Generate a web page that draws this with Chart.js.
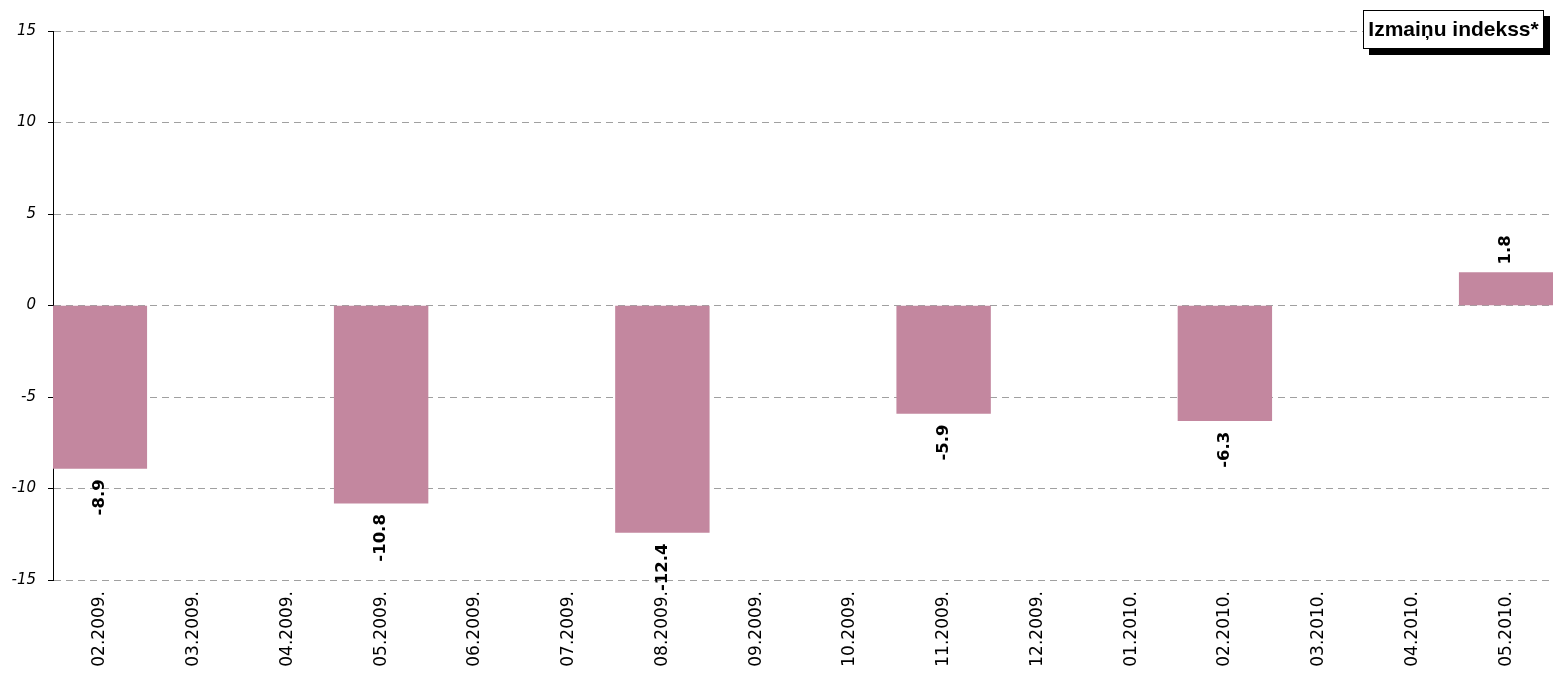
<!DOCTYPE html>
<html>
<head>
<meta charset="utf-8">
<script src="https://cdn.jsdelivr.net/npm/chart.js@4"></script>
<style>
  html, body { margin: 0; padding: 0; background: #fff; }
  #wrap { width: 1553px; height: 675px; position: relative; }
</style>
</head>
<body>
<div id="wrap"><canvas id="myChart" width="1553" height="675"></canvas></div>
<script>
var labels = ['02.2009.', '03.2009.', '04.2009.', '05.2009.', '06.2009.', '07.2009.', '08.2009.', '09.2009.',
              '10.2009.', '11.2009.', '12.2009.', '01.2010.', '02.2010.', '03.2010.', '04.2010.', '05.2010.'];
var valores = [-8.9, null, null, -10.8, null, null, -12.4, null, null, -5.9, null, null, -6.3, null, null, 1.8];
var yTicks = [-15, -10, -5, 0, 5, 10, 15];
var nomeSerie = 'Izmaiņu indekss*';

var fonte = '"DejaVu Sans", Arial, sans-serif';

// rotulos das barras
const rotulos = {
    id: 'rotulos',
    afterDatasetsDraw(chart) {
        const ctx = chart.ctx;
        const meta = chart.getDatasetMeta(0);
        ctx.save();
        ctx.font = 'bold 16.5px ' + fonte;
        ctx.fillStyle = '#000';
        ctx.textBaseline = 'middle';
        meta.data.forEach((bar, i) => {
            var v = valores[i];
            if (v === null) return;
            ctx.save();
            if (v < 0) {
                ctx.translate(bar.x, bar.y + 11);
                ctx.rotate(-Math.PI / 2);
                ctx.textAlign = 'right';
            } else {
                ctx.translate(bar.x, bar.y - 8);
                ctx.rotate(-Math.PI / 2);
                ctx.textAlign = 'left';
            }
            ctx.fillText(v.toFixed(1), 0, 0);
            ctx.restore();
        });
        ctx.restore();
    }
};

// caixa da legenda
const legendaCaixa = {
    id: 'legendaCaixa',
    afterDraw(chart) {
        const ctx = chart.ctx;
        ctx.save();
        ctx.font = 'bold 21px "Liberation Sans", Arial, sans-serif';
        var left = 1363, top = 10, w = 181, h = 39;
        ctx.fillStyle = '#000';
        ctx.fillRect(left + 6, top + 6, w, h);
        ctx.fillStyle = '#fff';
        ctx.fillRect(left, top, w, h);
        ctx.strokeStyle = '#000';
        ctx.lineWidth = 1;
        ctx.strokeRect(left + 0.5, top + 0.5, w - 1, h - 1);
        ctx.fillStyle = '#000';
        ctx.textAlign = 'center';
        ctx.textBaseline = 'middle';
        ctx.fillText(nomeSerie, left + w / 2, top + h / 2 + 1);
        ctx.restore();
    }
};

const data = {
    labels: labels,
    datasets: [{
        label: nomeSerie,
        backgroundColor: 'rgb(195,135,159)',
        data: valores,
        categoryPercentage: 1,
        barPercentage: 1
    }]
};

const config = {
    type: 'bar',
    data: data,
    options: {
        responsive: false,
        animation: false,
        layout: { padding: { top: 31, right: 0, left: 0, bottom: 0 } },
        plugins: {
            legend: { display: false },
            tooltip: { enabled: false }
        },
        scales: {
            x: {
                grid: { display: false, drawTicks: false },
                border: { display: false },
                ticks: {
                    minRotation: 90,
                    maxRotation: 90,
                    autoSkip: false,
                    padding: 11,
                    color: '#000',
                    font: { family: fonte, size: 17 }
                },
                afterFit(scale) { scale.height = 95; }
            },
            y: {
                min: -15,
                max: 15,
                afterBuildTicks(scale) { scale.ticks = yTicks.map(v => ({ value: v })); },
                grid: {
                    color: '#a0a0a0',
                    tickColor: '#000',
                    tickLength: 5,
                    tickBorderDash: [1, 0]
                },
                border: { display: true, color: '#000', width: 1, dash: [7, 5] },
                ticks: {
                    padding: 12,
                    color: '#000',
                    font: { family: fonte, size: 15, style: 'italic' }
                },
                afterFit(scale) { scale.width = 53; }
            }
        }
    },
    plugins: [rotulos, legendaCaixa]
};

const myChart = new Chart(document.getElementById('myChart'), config);
</script>
</body>
</html>
